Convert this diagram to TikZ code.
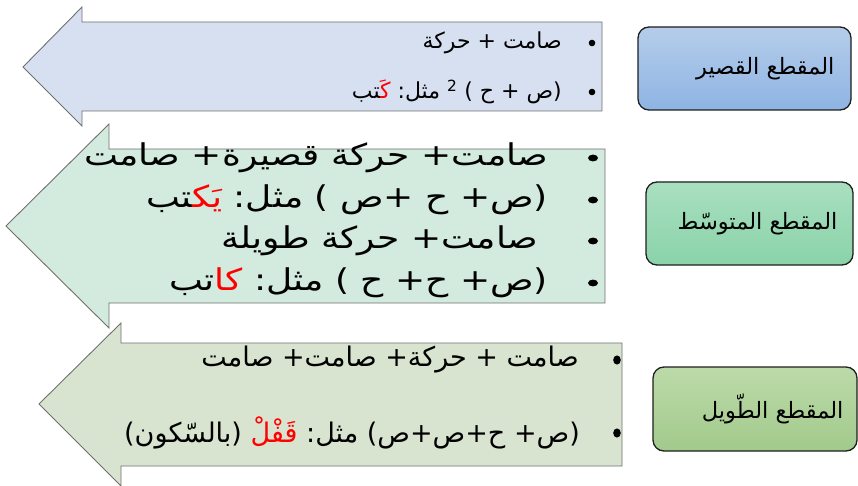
\documentclass[tikz,border=0pt]{standalone}
\usepackage{fontspec}
\newfontfamily\ar[Script=Arabic]{DejaVu Sans}
\newfontfamily\arred[Script=Arabic,Color=FF0000]{DejaVu Sans}
\newfontfamily\arw[Script=Arabic,FakeStretch=1.2]{DejaVu Sans}
\newfontfamily\arwred[Script=Arabic,FakeStretch=1.2,Color=FF0000]{DejaVu Sans}
\TeXXeTstate=1
\definecolor{arrline}{HTML}{707070}
\definecolor{boxline}{HTML}{1E1E1E}
\definecolor{fillA}{HTML}{D6E0F0}
\definecolor{fillB}{HTML}{D3EADE}
\definecolor{fillC}{HTML}{D8E4D0}
\definecolor{boxAt}{HTML}{B5CDEA}
\definecolor{boxAb}{HTML}{8EB4E3}
\definecolor{boxBt}{HTML}{A9DFC0}
\definecolor{boxBb}{HTML}{8AD3A9}
\definecolor{boxCt}{HTML}{BCDAA9}
\definecolor{boxCb}{HTML}{A2CA8C}
\newcommand\PR{\mbox{(}}
\newcommand\PL{\mbox{)}}
\newcommand\ZW{^^^^200d}
\begin{document}
\begin{tikzpicture}[x=1pt,y=-1pt,
  arrowshape/.style={draw=arrline, line width=0.9pt, line join=miter},
  segbox/.style={draw=boxline, line width=1.3pt, rounded corners=11pt, inner sep=0pt},
  txtA/.style={anchor=east, inner sep=0pt, font=\ar\fontsize{22}{24}\selectfont},
  txtB/.style={anchor=east, inner sep=0pt, font=\arw\fontsize{30}{34}\selectfont},
  txtC/.style={anchor=east, inner sep=0pt, font=\ar\fontsize{27}{30}\selectfont},
  lbl/.style={anchor=east, inner sep=0pt, font=\ar\fontsize{22.5}{25}\selectfont},
  bul/.style={fill=black}]
\useasboundingbox (0,0) rectangle (858,486);
% arrows
\draw[arrowshape, fill=fillA] (602,22) -- (82,22) -- (82,7) -- (23,67) -- (82,126) -- (82,111) -- (602,111) -- cycle;
\draw[arrowshape, fill=fillB] (605,149) -- (109,149) -- (109,124) -- (6,226) -- (109,328) -- (109,303) -- (605,303) -- cycle;
\draw[arrowshape, fill=fillC] (622,343) -- (121,343) -- (121,323) -- (39,404) -- (121,486) -- (121,466) -- (622,466) -- cycle;
% bullets
\fill[bul] (592,43) ellipse (3.3 and 3.3);
\fill[bul] (592,92) ellipse (3.3 and 3.3);
\fill[bul] (593,158) ellipse (5 and 3.4);
\fill[bul] (593,200) ellipse (5 and 3.4);
\fill[bul] (593,241) ellipse (5 and 3.4);
\fill[bul] (593,283) ellipse (5 and 3.4);
\fill[bul] (617,360) ellipse (3.8 and 4.6);
\fill[bul] (617,433) ellipse (3.8 and 4.6);
% arrow texts
\node[txtA] (a1) at (562,43) {\beginR صامت + حركة\endR};
\node[txtA] (a2) at (562,92) {\beginR \PR ص + ح \PL\ \mbox{\textsuperscript{2}} مثل\mbox{:} {\arred كَ\ZW}\ZW تب\endR};
\node[txtB] (m1) at (548,158) {\beginR صامت\mbox{+} حركة قصيرة\mbox{+} صامت\endR};
\node[txtB] (m2) at (548,200) {\beginR \PR ص\mbox{+} ح \mbox{+}ص \PL\ مثل\mbox{:} {\arwred يَك\ZW}\ZW تب\endR};
\node[txtB] (m3) at (538,241) {\beginR صامت\mbox{+} حركة طويلة\endR};
\node[txtB] (m4) at (548,283) {\beginR \PR ص\mbox{+} ح\mbox{+} ح \PL\ مثل\mbox{:} {\arwred كا}تب\endR};
\node[txtC] (l1) at (579,360) {\beginR صامت + حركة\mbox{+} صامت\mbox{+} صامت\endR};
\node[txtC] (l2) at (580,433) {\beginR \PR ص\mbox{+} ح\mbox{+}ص\mbox{+}ص\PL\ مثل\mbox{:} {\arred قَفْلْ} \PR بالسّكون\PL\endR};
% boxes
\node[segbox, top color=boxAt, bottom color=boxAb, minimum width=213pt, minimum height=83pt] (b1) at (744.5,68.5) {};
\node[segbox, top color=boxBt, bottom color=boxBb, minimum width=207pt, minimum height=83pt] (b2) at (749.5,223.5) {};
\node[segbox, top color=boxCt, bottom color=boxCb, minimum width=204pt, minimum height=84pt] (b3) at (755,409) {};
\node[lbl] (t1) at ([xshift=-17pt]b1.east) {\beginR المقطع القصير\endR};
\node[lbl] (t2) at ([xshift=-16pt]b2.east) {\beginR المقطع المتوسّط\endR};
\node[lbl] (t3) at ([xshift=-14pt]b3.east) {\beginR المقطع الطّويل\endR};
\end{tikzpicture}
\end{document}
